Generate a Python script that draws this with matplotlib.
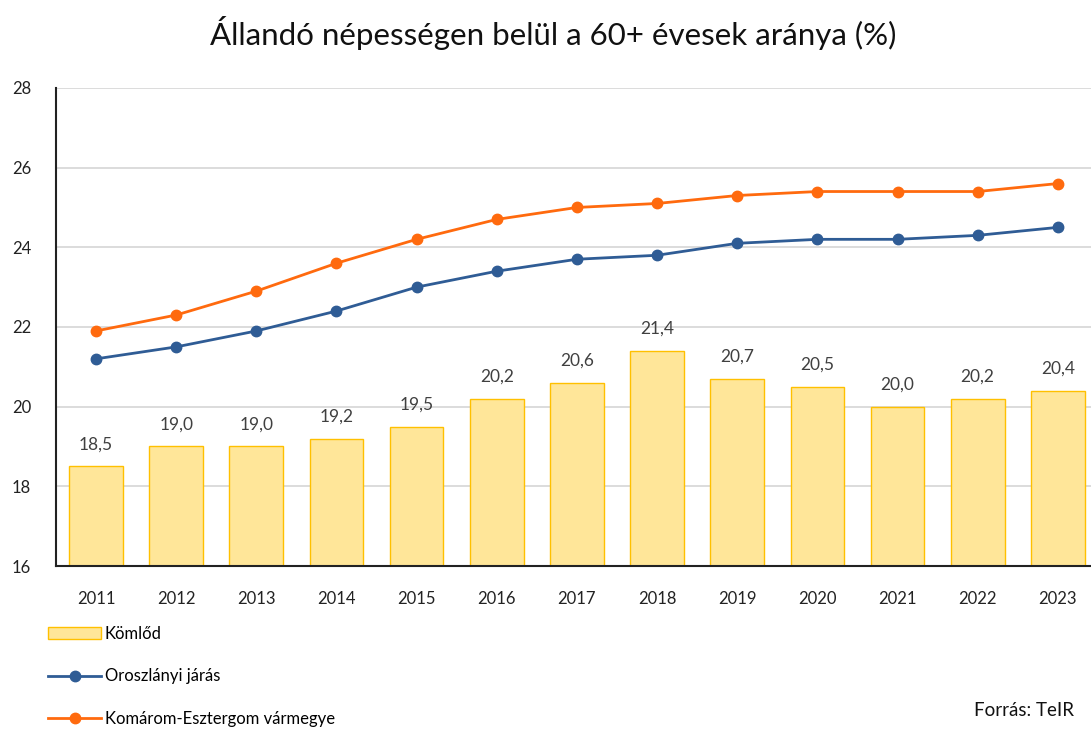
import matplotlib.pyplot as plt

plt.rcParams['font.family'] = ['Lato', 'DejaVu Sans']

years = ['2011', '2012', '2013', '2014', '2015', '2016', '2017',
         '2018', '2019', '2020', '2021', '2022', '2023']
komlod = [18.5, 19.0, 19.0, 19.2, 19.5, 20.2, 20.6, 21.4, 20.7, 20.5, 20.0, 20.2, 20.4]
oroszlany = [21.2, 21.5, 21.9, 22.4, 23.0, 23.4, 23.7, 23.8, 24.1, 24.2, 24.2, 24.3, 24.5]
megye = [21.9, 22.3, 22.9, 23.6, 24.2, 24.7, 25.0, 25.1, 25.3, 25.4, 25.4, 25.4, 25.6]

fig = plt.figure(figsize=(10.91, 7.31), dpi=100)
ax = fig.add_axes([0.0513, 0.2257, 0.955, 0.654])

x = list(range(len(years)))

# oszlopok
bars = ax.bar(x, [v - 16 for v in komlod], bottom=16, width=0.67,
              color='#FFE699', edgecolor='#FFC000', linewidth=1,
              label='Kömlőd', zorder=2)
for xi, v in zip(x, komlod):
    ax.text(xi, v + 0.35, f'{v:.1f}'.replace('.', ','), ha='center', va='bottom',
            fontsize=12.5, color='#404040')

# vonalak
l1, = ax.plot(x, oroszlany, color='#2F5C95', linewidth=2, marker='o', markersize=7.5,
              label='Oroszlányi járás', zorder=3)
l2, = ax.plot(x, megye, color='#FF6A0E', linewidth=2, marker='o', markersize=7.5,
              label='Komárom-Esztergom vármegye', zorder=3)

ax.set_xlim(-0.5, 12.5)
ax.set_ylim(16, 28)
ax.set_yticks(range(16, 29, 2))
ax.set_xticks(x)
ax.set_xticklabels(years)
ax.tick_params(axis='both', length=0, labelsize=12, colors='#222222')
ax.tick_params(axis='x', pad=18)
ax.tick_params(axis='y', pad=18)
ax.grid(axis='y', color='#D9D9D9', linewidth=1.3, zorder=0)
ax.set_axisbelow(True)
for s in ['top', 'right']:
    ax.spines[s].set_visible(False)
ax.spines['left'].set_color('#222222')
ax.spines['left'].set_linewidth(1.5)
ax.spines['bottom'].set_color('#222222')
ax.spines['bottom'].set_linewidth(1.5)

fig.text(0.507, 0.955, 'Állandó népességen belül a 60+ évesek aránya (%)',
         ha='center', va='center', fontsize=22.5, color='#111111')

fig.legend([bars, l1, l2], ['Kömlőd', 'Oroszlányi járás', 'Komárom-Esztergom vármegye'],
           loc='upper left', bbox_to_anchor=(0.038, 0.153), frameon=False,
           fontsize=12, handlelength=3.2, handletextpad=0.2, labelspacing=1.6,
           borderaxespad=0)

fig.text(0.893, 0.028, 'Forrás: TeIR', ha='left', va='center', fontsize=13.5,
         color='#111111')

fig.savefig('out.png', dpi=100)
